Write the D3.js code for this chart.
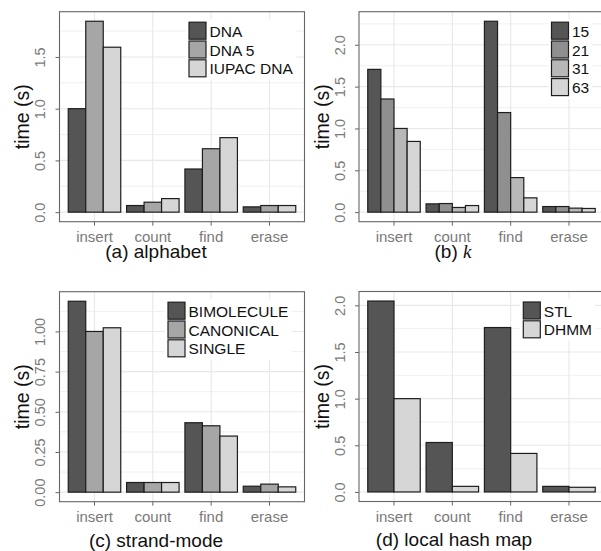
<!DOCTYPE html>
<html>
<head>
<meta charset="utf-8">
<script src="https://cdn.jsdelivr.net/npm/d3@7"></script>
<style>
  body { margin: 0; background: #fff; }
  svg { display: block; font-family: "Liberation Sans", Arial, sans-serif; }
</style>
</head>
<body>
<svg id="chart" width="601" height="551"></svg>
<script>
// shared categories
const categories = ['insert', 'count', 'find', 'erase'];

// (a) alphabet
const alphabetSeries = ['DNA', 'DNA 5', 'IUPAC DNA'];
const alphabetValues = [
  [1.0, 0.064, 0.417, 0.051],
  [1.845, 0.096, 0.613, 0.064],
  [1.594, 0.131, 0.72, 0.064]
];
const alphabetTicks = [0, 0.5, 1.0, 1.5];
const alphabetTickLabels = ['0.0', '0.5', '1.0', '1.5'];

// (b) k
const kSeries = ['15', '21', '31', '63'];
const kValues = [
  [1.706, 0.099, 2.281, 0.067],
  [1.352, 0.103, 1.19, 0.067],
  [1.0, 0.056, 0.413, 0.048],
  [0.845, 0.079, 0.171, 0.044]
];
const kTicks = [0, 0.5, 1.0, 1.5, 2.0];
const kTickLabels = ['0.0', '0.5', '1.0', '1.5', '2.0'];

// (c) strand-mode
const strandSeries = ['BIMOLECULE', 'CANONICAL', 'SINGLE'];
const strandValues = [
  [1.188, 0.06, 0.432, 0.037],
  [1.0, 0.06, 0.413, 0.05],
  [1.023, 0.06, 0.349, 0.033]
];
const strandTicks = [0, 0.25, 0.5, 0.75, 1.0];
const strandTickLabels = ['0.00', '0.25', '0.50', '0.75', '1.00'];

// (d) local hash map
const hashSeries = ['STL', 'DHMM'];
const hashValues = [
  [2.046, 0.53, 1.762, 0.06],
  [1.0, 0.06, 0.413, 0.05]
];
const hashTicks = [0, 0.5, 1.0, 1.5, 2.0];
const hashTickLabels = ['0.0', '0.5', '1.0', '1.5', '2.0'];

const grey3 = ['#555555', '#a6a6a6', '#d6d6d6'];
const grey4 = ['#555555', '#8f8f8f', '#b8b8b8', '#d6d6d6'];
const grey2 = ['#555555', '#d6d6d6'];

const svg = d3.select('#chart');

// legX: left edge of the legend keys, relative to the panel
const panels = [
  { series: alphabetSeries, values: alphabetValues, ticks: alphabetTicks, tickLabels: alphabetTickLabels,
    colors: grey3, x0: 59.5, y0: 11.7, legX: 129.5, caption: '(a) alphabet', capX: 156, capY: 258 },
  { series: kSeries, values: kValues, ticks: kTicks, tickLabels: kTickLabels,
    colors: grey4, x0: 359, y0: 11.7, legX: 192.5, caption: '(b) ', capMath: 'k', capX: 453, capY: 258 },
  { series: strandSeries, values: strandValues, ticks: strandTicks, tickLabels: strandTickLabels,
    colors: grey3, x0: 59.5, y0: 291.7, legX: 108.5, caption: '(c) strand-mode', capX: 156, capY: 547 },
  { series: hashSeries, values: hashValues, ticks: hashTicks, tickLabels: hashTickLabels,
    colors: grey2, x0: 359, y0: 291.5, legX: 164.3, caption: '(d) local hash map', capX: 454, capY: 546 }
];

const PW = 245, PH = 210;

panels.forEach(p => drawPanel(p));

function drawPanel(p) {
  const g = svg.append('g').attr('transform', `translate(${p.x0},${p.y0})`);
  const maxV = d3.max(p.values.flat());

  const y = d3.scaleLinear().domain([-0.05 * maxV, 1.05 * maxV]).range([PH, 0]);
  const x = d3.scaleBand().domain(categories).range([0, PW]).paddingInner(0.1).paddingOuter(0.15);
  const xs = d3.scaleBand().domain(p.series).range([0, x.bandwidth()]);

  // grid
  g.append('rect').attr('width', PW).attr('height', PH).attr('fill', '#fff');
  const step = p.ticks[1] - p.ticks[0];
  const minors = [];
  for (let v = p.ticks[0] - step / 2; v < y.domain()[1]; v += step) {
    if (v > y.domain()[0]) minors.push(v);
  }
  g.append('g').selectAll('line.minor').data(minors).join('line')
    .attr('x1', 0).attr('x2', PW)
    .attr('y1', d => y(d)).attr('y2', d => y(d))
    .attr('stroke', '#eeeeee').attr('stroke-width', 0.9);
  g.append('g').selectAll('line.major').data(p.ticks).join('line')
    .attr('x1', 0).attr('x2', PW)
    .attr('y1', d => y(d)).attr('y2', d => y(d))
    .attr('stroke', '#e8e8e8').attr('stroke-width', 1.1);
  g.append('g').selectAll('line.vx').data(categories).join('line')
    .attr('x1', d => x(d) + x.bandwidth() / 2).attr('x2', d => x(d) + x.bandwidth() / 2)
    .attr('y1', 0).attr('y2', PH)
    .attr('stroke', '#e8e8e8').attr('stroke-width', 1.1);

  // bars
  p.series.forEach((s, si) => {
    g.append('g').selectAll('rect').data(p.values[si]).join('rect')
      .attr('x', (d, i) => x(categories[i]) + xs(s))
      .attr('width', xs.bandwidth())
      .attr('y', d => y(d))
      .attr('height', d => y(0) - y(d))
      .attr('fill', p.colors[si])
      .attr('stroke', '#1e1e1e')
      .attr('stroke-width', 1.2);
  });

  // border
  g.append('rect').attr('width', PW).attr('height', PH)
    .attr('fill', 'none').attr('stroke', '#666').attr('stroke-width', 1.1);

  // x axis
  const xAxis = d3.axisBottom(x).tickSize(4).tickPadding(4);
  const gx = g.append('g').attr('transform', `translate(0,${PH})`).call(xAxis);
  gx.select('.domain').remove();
  gx.selectAll('.tick line').attr('stroke', '#666');
  gx.selectAll('.tick text').attr('fill', '#7a7a7a')
    .style('font-family', '"Liberation Sans", Arial, sans-serif').style('font-size', '15px')
    .attr('dy', null).attr('y', 20);

  // y axis
  const yAxis = d3.axisLeft(y).tickValues(p.ticks).tickFormat((d, i) => p.tickLabels[i]).tickSize(4);
  const gy = g.append('g').call(yAxis);
  gy.select('.domain').remove();
  gy.selectAll('.tick line').attr('stroke', '#666');
  gy.selectAll('.tick text').attr('fill', '#7a7a7a')
    .style('font-family', '"Liberation Sans", Arial, sans-serif').style('font-size', '14.5px')
    .attr('x', null).attr('dy', null)
    .attr('text-anchor', 'middle')
    .attr('transform', 'translate(-14.5,0) rotate(-90)');

  // y title
  g.append('text')
    .attr('transform', `translate(-30.5,${PH / 2}) rotate(-90)`)
    .attr('text-anchor', 'middle')
    .attr('font-size', '19.5px')
    .attr('fill', '#111')
    .text('time (s)');

  // legend
  const leg = g.append('g');
  const items = leg.selectAll('g').data(p.series).join('g')
    .attr('transform', (d, i) => `translate(0,${i * 18.8})`);
  items.append('rect').attr('width', 17).attr('height', 17)
    .attr('fill', (d, i) => p.colors[i]).attr('stroke', '#1e1e1e').attr('stroke-width', 1.2);
  const labels = items.append('text').attr('x', 20.5).attr('y', 14.5)
    .attr('font-size', '15.5px').attr('fill', '#111').text(d => d);
  let maxW = 0;
  labels.each(function () { maxW = Math.max(maxW, this.getComputedTextLength()); });
  const legW = 20.5 + maxW;
  leg.insert('rect', ':first-child')
    .attr('x', -3).attr('y', -3)
    .attr('width', legW + 6).attr('height', p.series.length * 18.8 + 4)
    .attr('fill', '#fff');
  leg.attr('transform', `translate(${p.legX},10.5)`);

  // caption
  const cap = svg.append('text')
    .attr('x', p.capX).attr('y', p.capY)
    .attr('text-anchor', 'middle')
    .attr('font-size', '19px')
    .attr('fill', '#111');
  cap.append('tspan').text(p.caption);
  if (p.capMath) {
    cap.append('tspan').text(p.capMath)
      .attr('font-family', '"Liberation Serif", "DejaVu Serif", serif')
      .attr('font-style', 'italic');
  }
}
</script>
</body>
</html>
